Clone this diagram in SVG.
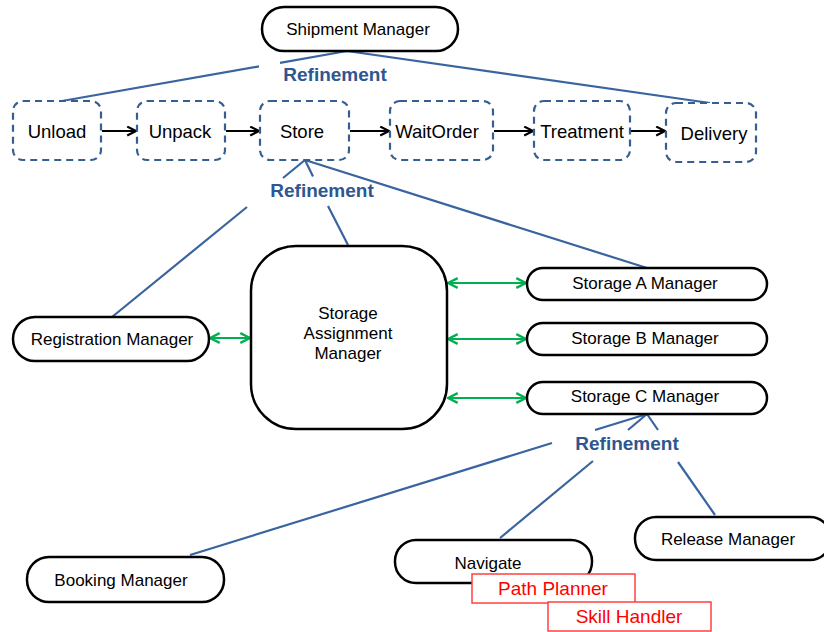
<svg xmlns="http://www.w3.org/2000/svg" width="824" height="632" viewBox="0 0 824 632">
<defs>
<style>
text{font-family:"Liberation Sans","DejaVu Sans",sans-serif;fill:#000;text-anchor:middle}
.pill{fill:#fff;stroke:#000;stroke-width:2.5}
.dash{fill:#fff;stroke:#355E91;stroke-width:2.2;stroke-dasharray:7 5}
.ref{stroke:#3A64A0;stroke-width:2.2;fill:none}
.flow{stroke:#000;stroke-width:2.2;fill:none;marker-end:url(#ah)}
.bi{stroke:#00B050;stroke-width:2.2;fill:none;marker-start:url(#gs);marker-end:url(#ge)}
.rl{font-weight:bold;font-size:19px;fill:#2E5690}
.red{fill:#fff;stroke:#FF4040;stroke-width:1.5}
.rt{fill:#FF0000;font-size:19px}
.n{font-size:17px}
.s{font-size:18.5px}
</style>
<marker id="ah" viewBox="0 0 10 10" refX="9" refY="5" markerWidth="5" markerHeight="5" orient="auto" markerUnits="strokeWidth"><path d="M1,1 L9,5 L1,9" fill="none" stroke="#000" stroke-width="2"/></marker>
<marker id="ge" viewBox="0 0 10 10" refX="9" refY="5" markerWidth="5.5" markerHeight="5.5" orient="auto" markerUnits="strokeWidth"><path d="M1,1 L9,5 L1,9" fill="none" stroke="#00B050" stroke-width="2"/></marker>
<marker id="gs" viewBox="0 0 10 10" refX="1" refY="5" markerWidth="5.5" markerHeight="5.5" orient="auto" markerUnits="strokeWidth"><path d="M9,1 L1,5 L9,9" fill="none" stroke="#00B050" stroke-width="2"/></marker>
</defs>
<rect width="824" height="632" fill="#fff"/>
<g id="connectors">
<path class="ref" d="M347,51 L280,62.8 M259,66.4 L62,101 M347,51 L710,103"/>
<path class="ref" d="M305,160 L283,178 M247,207 L112,317 M305,160 L313,176.5 M328,206 L348,245 M305,160 L647,268"/>
<path class="ref" d="M647,414 L595,430 M552,443 L190,555 M647,414 L628,430 M593,461 L500,538 M647,414 L658,430 M678,462 L715,515"/>
<path class="flow" d="M102,131 L136,131"/>
<path class="flow" d="M226,131 L259,131"/>
<path class="flow" d="M350,131 L389,131"/>
<path class="flow" d="M494,131 L533,131"/>
<path class="flow" d="M629,131 L665,131"/>
<path class="bi" d="M210,338 L250,338"/>
<path class="bi" d="M448,283 L526,283"/>
<path class="bi" d="M448,339 L526,339"/>
<path class="bi" d="M448,398 L526,398"/>
</g>
<text class="rl" x="335" y="81">Refinement</text>
<text class="rl" x="322" y="197">Refinement</text>
<text class="rl" x="627" y="450">Refinement</text>
<g id="shipment"><rect class="pill" x="262" y="7" width="196" height="44" rx="22"/><text class="n" x="358" y="35">Shipment Manager</text></g>
<g id="unload"><rect class="dash" x="13" y="101" width="88" height="59" rx="10"/><text class="s" x="57" y="138">Unload</text></g>
<g id="unpack"><rect class="dash" x="137" y="101" width="88" height="59" rx="10"/><text class="s" x="180" y="138">Unpack</text></g>
<g id="store"><rect class="dash" x="260" y="101" width="89" height="59" rx="10"/><text class="s" x="302" y="138">Store</text></g>
<g id="waitorder"><rect class="dash" x="390" y="101" width="103" height="59" rx="10"/><text class="s" x="437" y="138">WaitOrder</text></g>
<g id="treatment"><rect class="dash" x="534" y="101" width="96" height="59" rx="10"/><text class="s" x="582" y="138">Treatment</text></g>
<g id="delivery"><rect class="dash" x="666" y="103" width="90" height="59" rx="10"/><text class="s" x="714" y="140">Delivery</text></g>
<g id="sam"><rect class="pill" x="251" y="246" width="196" height="183" rx="45"/><text class="n" x="348" y="319">Storage</text><text class="n" x="348" y="339">Assignment</text><text class="n" x="348" y="359">Manager</text></g>
<g id="registration"><rect class="pill" x="13" y="317" width="196" height="44" rx="22"/><text class="n" x="112" y="345">Registration Manager</text></g>
<g id="storageA"><rect class="pill" x="527" y="268" width="240" height="32" rx="16"/><text class="n" x="645" y="289">Storage A Manager</text></g>
<g id="storageB"><rect class="pill" x="527" y="323" width="240" height="32" rx="16"/><text class="n" x="645" y="344">Storage B Manager</text></g>
<g id="storageC"><rect class="pill" x="527" y="382" width="240" height="32" rx="16"/><text class="n" x="645" y="402">Storage C Manager</text></g>
<g id="booking"><rect class="pill" x="27" y="557" width="197" height="45" rx="22"/><text class="n" x="121" y="586">Booking Manager</text></g>
<g id="release"><rect class="pill" x="635" y="517" width="196" height="43" rx="21"/><text class="n" x="728" y="545">Release Manager</text></g>
<g id="navigate"><rect class="pill" x="395" y="540" width="197" height="43" rx="21"/><text class="n" x="488" y="569">Navigate</text></g>
<g id="pathplanner"><rect class="red" x="472" y="574" width="163" height="29"/><text class="rt" x="553" y="595">Path Planner</text></g>
<g id="skillhandler"><rect class="red" x="548" y="602" width="163" height="29"/><text class="rt" x="629" y="623">Skill Handler</text></g>
</svg>
